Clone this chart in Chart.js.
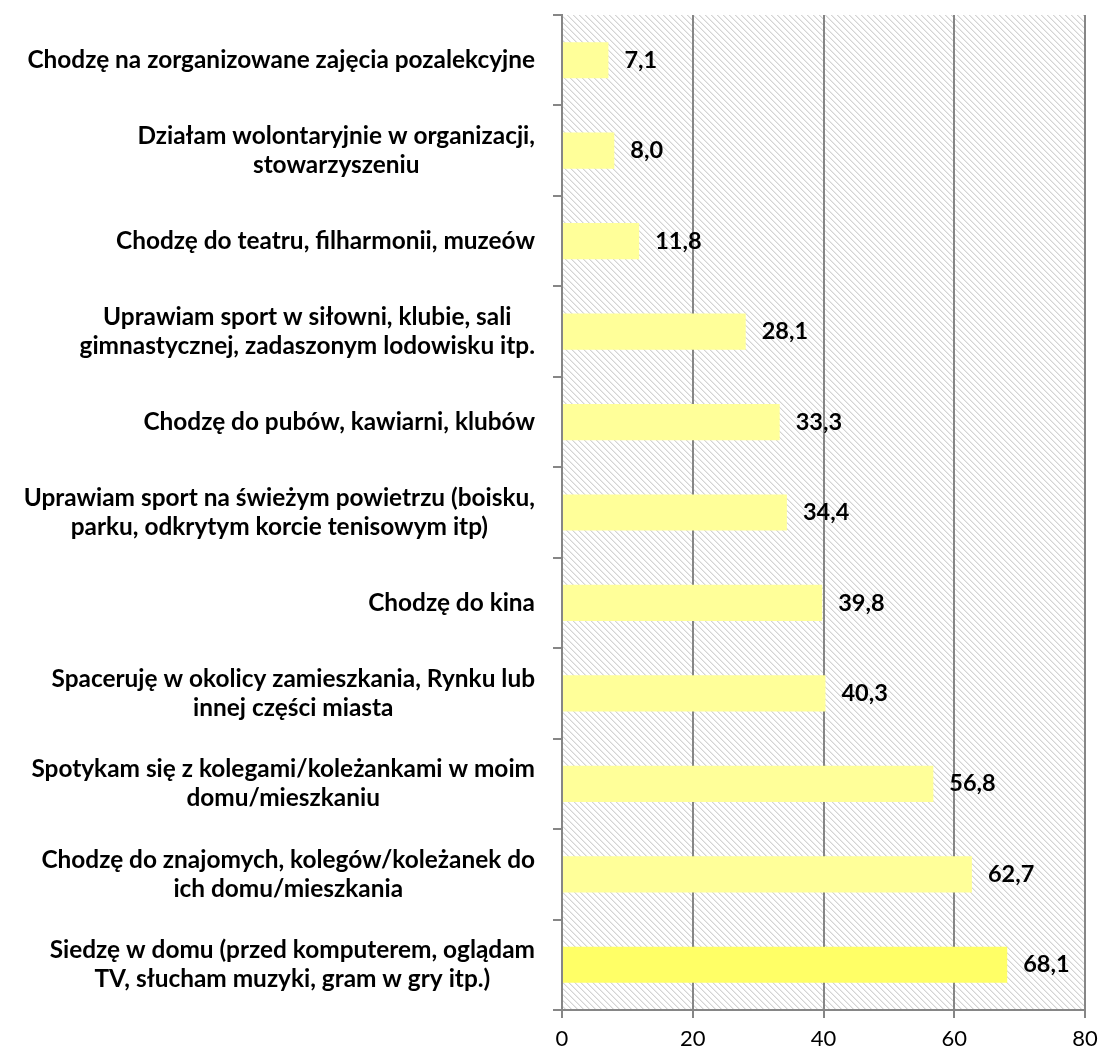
<!DOCTYPE html>
<html>
<head>
<meta charset="utf-8">
<script src="https://cdn.jsdelivr.net/npm/chart.js"></script>
<style>
  html, body { margin: 0; padding: 0; background: #fff; }
  #wrap { width: 1101px; height: 1055px; }
</style>
</head>
<body>
<div id="wrap"><canvas id="c" width="1101" height="1055"></canvas></div>
<script>
const categories = [
  'Chodzę na zorganizowane zajęcia pozalekcyjne',
  ['Działam wolontaryjnie w organizacji,', 'stowarzyszeniu'],
  'Chodzę do teatru, filharmonii, muzeów',
  ['Uprawiam sport w siłowni, klubie, sali', 'gimnastycznej, zadaszonym lodowisku itp.'],
  'Chodzę do pubów, kawiarni, klubów',
  ['Uprawiam sport na świeżym powietrzu (boisku,', 'parku, odkrytym korcie tenisowym itp)'],
  'Chodzę do kina',
  ['Spaceruję w okolicy zamieszkania, Rynku lub', 'innej części miasta'],
  ['Spotykam się z kolegami/koleżankami w moim', 'domu/mieszkaniu'],
  ['Chodzę do znajomych, kolegów/koleżanek do', 'ich domu/mieszkania'],
  ['Siedzę w domu (przed komputerem, oglądam', 'TV, słucham muzyki, gram w gry itp.)']
];
const values = [7.1, 8.0, 11.8, 28.1, 33.3, 34.4, 39.8, 40.3, 56.8, 62.7, 68.1];
const xTicks = [0, 20, 40, 60, 80];

const FONT = 'Lato, "Open Sans", sans-serif';
const barColors = values.map((v, i) => i === values.length - 1 ? '#ffff66' : '#ffff99');

// diagonal hatch for plot background
function makeHatch() {
  const n = 6;
  const t = document.createElement('canvas');
  t.width = n; t.height = n;
  const g = t.getContext('2d');
  g.fillStyle = '#ffffff';
  g.fillRect(0, 0, n, n);
  for (let i = 0; i < n; i++) {
    g.fillStyle = '#d4d4d4';
    g.fillRect(i, i, 1, 1);
    g.fillStyle = '#ebebeb';
    g.fillRect((i + 1) % n, i, 1, 1);
  }
  return document.getElementById('c').getContext('2d').createPattern(t, 'repeat');
}
const hatch = makeHatch();

const bgPlugin = {
  id: 'bg',
  beforeDraw(chart) {
    const { ctx, chartArea: a } = chart;
    ctx.save();
    ctx.fillStyle = hatch;
    ctx.fillRect(a.left, a.top, a.right - a.left, a.bottom - a.top);
    ctx.restore();
  }
};

const labelPlugin = {
  id: 'labels',
  afterDraw(chart) {
    const ctx = chart.ctx;
    const y = chart.scales.y;
    const meta = chart.getDatasetMeta(0);
    ctx.save();
    ctx.fillStyle = '#000';
    ctx.textBaseline = 'middle';
    // category labels, lines centred within each block, block right-aligned
    ctx.font = 'bold 24.4px ' + FONT;
    ctx.textAlign = 'center';
    const rightEdge = 535, lh = 29;
    categories.forEach((lab, i) => {
      const lines = Array.isArray(lab) ? lab : [lab];
      const w = Math.max(...lines.map(l => ctx.measureText(l).width));
      const cx = rightEdge - w / 2;
      const cy = y.getPixelForValue(i);
      lines.forEach((l, k) => {
        ctx.fillText(l, cx, cy + (k - (lines.length - 1) / 2) * lh);
      });
    });
    // value labels
    ctx.font = 'bold 23.5px ' + FONT;
    ctx.textAlign = 'left';
    meta.data.forEach((bar, i) => {
      ctx.fillText(values[i].toFixed(1).replace('.', ','), bar.x + 16, bar.y);
    });
    ctx.restore();
  }
};

new Chart(document.getElementById('c'), {
  type: 'bar',
  data: {
    labels: categories,
    datasets: [{
      data: values,
      backgroundColor: barColors,
      borderWidth: 0,
      categoryPercentage: 1,
      barPercentage: 0.4
    }]
  },
  options: {
    indexAxis: 'y',
    responsive: false,
    animation: false,
    devicePixelRatio: 1,
    layout: { padding: { top: 15, right: 16, left: 0, bottom: 0 } },
    plugins: { legend: { display: false }, tooltip: { enabled: false } },
    scales: {
      x: {
        min: 0, max: 80,
        afterBuildTicks: s => { s.ticks = xTicks.map(v => ({ value: v })); },
        afterFit: s => { s.height = 45; s.paddingLeft = 0; s.paddingRight = 0; },
        grid: { color: '#868686', lineWidth: 2, tickLength: 8, drawTicks: true },
        border: { color: '#868686', width: 2 },
        ticks: { color: '#000', font: { family: FONT, size: 22 }, padding: 8 }
      },
      y: {
        afterFit: s => { s.width = 562; },
        grid: { offset: true, drawOnChartArea: false, color: '#868686', lineWidth: 2, tickLength: 9 },
        border: { color: '#868686', width: 2 },
        ticks: { display: false }
      }
    }
  },
  plugins: [bgPlugin, labelPlugin]
});
</script>
</body>
</html>
